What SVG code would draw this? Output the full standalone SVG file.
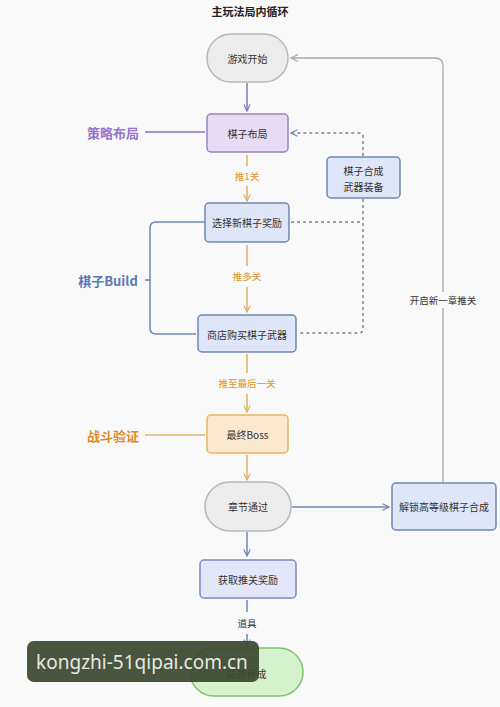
<svg xmlns="http://www.w3.org/2000/svg" width="500" height="707" viewBox="0 0 500 707">
<defs>
<style>
text{font-family:"Noto Sans CJK SC","Noto Sans",sans-serif;}
.t{font-size:10px;fill:#333;text-anchor:middle;dominant-baseline:central;}
.lbl{font-size:9.5px;text-anchor:middle;dominant-baseline:central;}
.side{font-size:13px;font-weight:bold;text-anchor:middle;dominant-baseline:central;}
.blue{fill:#dfe6f7;stroke:#6f86b5;stroke-width:1.5;}
.gray{fill:#ececec;stroke:#b8b8b8;stroke-width:1.5;}
</style>
<marker id="aP" viewBox="0 0 10 10" refX="9" refY="5" markerWidth="8" markerHeight="8" orient="auto" markerUnits="userSpaceOnUse"><path d="M1,1 L9,5 L1,9" fill="none" stroke="#8a6fc7" stroke-width="1.5"/></marker>
<marker id="aO" viewBox="0 0 10 10" refX="9" refY="5" markerWidth="8" markerHeight="8" orient="auto" markerUnits="userSpaceOnUse"><path d="M1,1 L9,5 L1,9" fill="none" stroke="#e0b060" stroke-width="1.5"/></marker>
<marker id="aB" viewBox="0 0 10 10" refX="9" refY="5" markerWidth="8" markerHeight="8" orient="auto" markerUnits="userSpaceOnUse"><path d="M1,1 L9,5 L1,9" fill="none" stroke="#6f86b5" stroke-width="1.5"/></marker>
<marker id="aG" viewBox="0 0 10 10" refX="9" refY="5" markerWidth="9" markerHeight="9" orient="auto" markerUnits="userSpaceOnUse"><path d="M1,1 L9,5 L1,9" fill="none" stroke="#aaaaaa" stroke-width="1.3"/></marker>
</defs>
<rect width="500" height="707" fill="#f9f9f9"/>
<text x="250" y="11" style="font-size:11px;font-weight:bold;fill:#222;text-anchor:middle;dominant-baseline:central;">主玩法局内循环</text>

<g id="connectors" fill="none">
<path d="M247,83 V111" stroke="#8a6fc7" stroke-width="1.5" marker-end="url(#aP)"/>
<path d="M145,132 H205" stroke="#8a6fc7" stroke-width="1.5"/>
<path d="M247,155 V166 M247,186 V201" stroke="#e0b060" stroke-width="1.5" marker-end="url(#aO)"/>
<path d="M247,245 V266 M247,287 V312" stroke="#e0b060" stroke-width="1.5" marker-end="url(#aO)"/>
<path d="M247,354 V373 M247,394 V412" stroke="#e0b060" stroke-width="1.5" marker-end="url(#aO)"/>
<path d="M145,435 H205" stroke="#e0b060" stroke-width="1.5"/>
<path d="M247,455 V480" stroke="#e0b060" stroke-width="1.5" marker-end="url(#aO)"/>
<path d="M205,222 H156 Q150,222 150,228 V328 Q150,334 156,334 H196 M145,280 H150" stroke="#6f86b5" stroke-width="1.5"/>
<path d="M363,156 V137 Q363,133 359,133 H291" stroke="#7a8499" stroke-width="1.5" stroke-dasharray="3,3" marker-end="url(#aB)"/>
<path d="M291,222 H363 M363,199 V329 Q363,333 359,333 H298" stroke="#7a8499" stroke-width="1.5" stroke-dasharray="3,3"/>
<path d="M292,507 H389" stroke="#6f86b5" stroke-width="1.5" marker-end="url(#aB)"/>
<path d="M443,482 V66 Q443,58 435,58 H291" stroke="#aaaaaa" stroke-width="1.3" marker-end="url(#aG)"/>
<path d="M247,532 V556" stroke="#6f86b5" stroke-width="1.5" marker-end="url(#aB)"/>
<path d="M247,600 V612 M247,634 V646" stroke="#6f86b5" stroke-width="1.5" marker-end="url(#aB)"/>
<rect x="403" y="292" width="80" height="16" fill="#f9f9f9"/>
<text class="lbl" x="443" y="300" style="fill:#333">开启新一章推关</text>
<text class="lbl" x="247" y="176" style="fill:#d9952e">推1关</text>
<text class="lbl" x="247" y="276" style="fill:#d9952e">推多关</text>
<text class="lbl" x="247" y="383" style="fill:#d9952e">推至最后一关</text>
<text class="lbl" x="247" y="623" style="fill:#333">道具</text>
</g>

<g id="label-strategy"><text class="side" x="113" y="132" style="fill:#9574cc">策略布局</text></g>
<g id="label-build"><text class="side" x="108" y="280" style="fill:#5a78b8">棋子Build</text></g>
<g id="label-battle"><text class="side" x="113" y="435" style="fill:#dc8a2a">战斗验证</text></g>

<g id="start"><rect class="gray" x="207" y="34" width="81" height="48" rx="24"/><text class="t" x="247.5" y="58">游戏开始</text></g>
<g id="layout"><rect x="207" y="114" width="81" height="38" rx="4" fill="#e8dcf5" stroke="#9b80c9" stroke-width="1.5"/><text class="t" x="247.5" y="133">棋子布局</text></g>
<g id="merge"><rect class="blue" x="327" y="157" width="73" height="41" rx="4"/><text class="t" x="363.5" y="170">棋子合成</text><text class="t" x="363.5" y="186">武器装备</text></g>
<g id="choose"><rect class="blue" x="205" y="203" width="84" height="39" rx="4"/><text class="t" x="247" y="222.5">选择新棋子奖励</text></g>
<g id="shop"><rect class="blue" x="198" y="315" width="98" height="37" rx="4"/><text class="t" x="247" y="334">商店购买棋子武器</text></g>
<g id="boss"><rect x="207" y="415" width="81" height="38" rx="4" fill="#fbe9cf" stroke="#e6b565" stroke-width="1.5"/><text class="t" x="247.5" y="434">最终Boss</text></g>
<g id="clear"><rect class="gray" x="205" y="482" width="86" height="49" rx="24.5"/><text class="t" x="248" y="506.5">章节通过</text></g>
<g id="unlock"><rect class="blue" x="392" y="483" width="104" height="47" rx="4"/><text class="t" x="444" y="506.5">解锁高等级棋子合成</text></g>
<g id="reward"><rect x="200" y="560" width="96" height="38" rx="4" fill="#e3e6f8" stroke="#7b88c0" stroke-width="1.5"/><text class="t" x="248" y="579">获取推关奖励</text></g>
<g id="meta"><rect x="190" y="648" width="113" height="48" rx="24" fill="#d6f2cc" stroke="#7cc46b" stroke-width="1.5"/><text class="t" x="246.5" y="673">局外养成</text></g>

<g id="watermark"><rect x="27" y="641" width="232" height="41" rx="7" fill="#3b4630" fill-opacity="0.92"/><text x="142" y="662" style="font-family:'Noto Sans','DejaVu Sans',sans-serif;font-size:19px;fill:#e8e8e0;text-anchor:middle;dominant-baseline:central;">kongzhi-51qipai.com.cn</text></g>
</svg>
